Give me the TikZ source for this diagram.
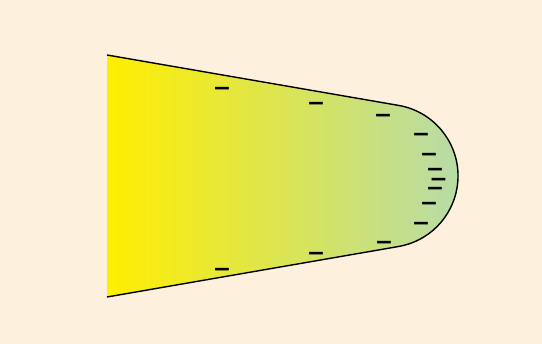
\documentclass[tikz,border=0pt]{standalone}
\usepackage{amsmath}
\usepackage{fontspec}
\usepackage{tikz}
\usetikzlibrary{positioning, shapes}
\newfontfamily\signfont{DejaVu Sans}
\definecolor{bgcream}{RGB}{253,240,220}
\definecolor{tipyellow}{RGB}{255,238,0}
\definecolor{endgreen}{RGB}{182,219,170}
\tikzset{
  charge/.style={inner sep=0pt, yshift=-2.4pt, font=\signfont\bfseries\fontsize{12.5}{14}\selectfont},
  rim/.style={line width=0.8pt}}

\begin{document}
\begin{tikzpicture}[x=0.02cm, y=0.02cm]
\useasboundingbox (0,0) rectangle (542,344);
\fill [bgcream] (0,0) rectangle (542,344);
\coordinate (tl) at (107,289);
\coordinate (tr) at (398.5,238.6);
\coordinate (br) at (398.5,97.4);
\coordinate (bl) at (107,47);
\fill [left color=tipyellow, right color=endgreen] (bl) -- (tl) -- (tr) arc[start angle=80.3, end angle=-80.3, radius=1.432cm] -- cycle;
\draw [rim] (tl) -- (tr) arc[start angle=80.3, end angle=-80.3, radius=1.432cm] -- (bl);
% charges along the top edge
\node [charge] (t1) at (222,257) {−};
\node [charge] (t2) at (316,242) {−};
\node [charge] (t3) at (383,230) {−};
% charges on the rounded end
\node [charge] (c1) at (421,211) {−};
\node [charge] (c2) at (429,191) {−};
\node [charge] (c3) at (435,176) {−};
\node [charge] (c4) at (438.5,166) {−};
\node [charge] (c5) at (435,157) {−};
\node [charge] (c6) at (429,142) {−};
\node [charge] (c7) at (421,122) {−};
% charges along the bottom edge
\node [charge] (b1) at (222,76) {−};
\node [charge] (b2) at (316,92) {−};
\node [charge] (b3) at (384,103) {−};
\end{tikzpicture}
\end{document}
